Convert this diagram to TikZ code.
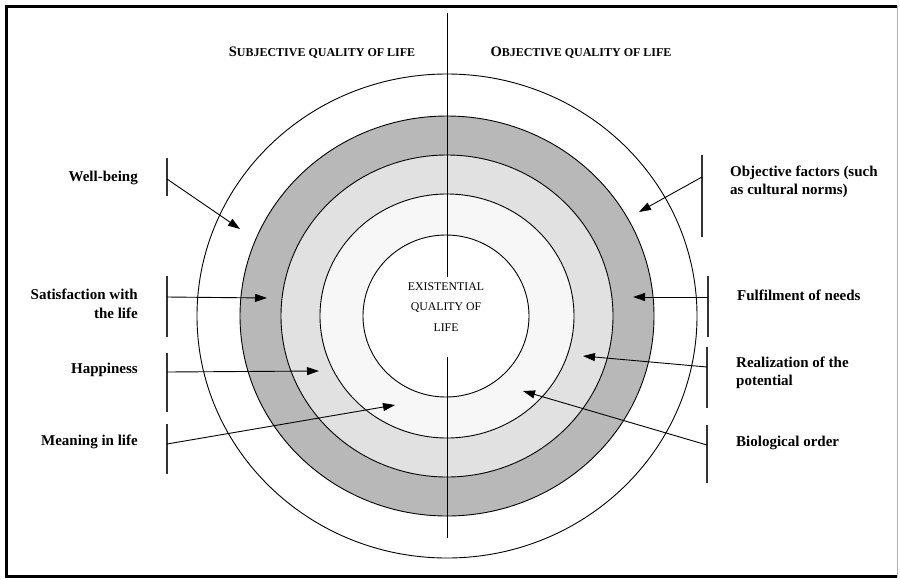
\documentclass[tikz,border=0pt]{standalone}
\usepackage{fontspec}
\setmainfont{Liberation Serif}
\usetikzlibrary{arrows.meta,positioning,calc}
\definecolor{ringdark}{HTML}{B8B8B8}
\definecolor{ringmid}{HTML}{E1E1E1}
\definecolor{ringlight}{HTML}{F7F7F7}
\tikzstyle{lbl} = [font=\fontsize{15}{18.5}\selectfont\bfseries, inner sep=0pt]
\tikzstyle{lbll} = [lbl, align=right, anchor=east]
\tikzstyle{lblr} = [lbl, align=left, anchor=west]
\tikzstyle{head} = [font=\bfseries, inner sep=0pt]
\tikzstyle{bar} = [line width=1.1pt, black!80]
\tikzstyle{pointer} = [-{Triangle[length=12pt,width=8pt]}, line width=0.9pt]
\tikzstyle{ring} = [draw, line width=0.9pt]
\newcommand{\hsc}[2]{{\fontsize{14.5}{16}\selectfont #1}{\fontsize{12}{16}\selectfont #2}}

\begin{document}
\begin{tikzpicture}[x=1pt,y=-1pt]
\useasboundingbox (0,0) rectangle (900,579);
% frame
\draw[line width=3pt] (897,6.5) -- (6.5,6.5) -- (6.5,576.5) -- (897,576.5);
\draw[gray!60, line width=0.8pt] (897,6) -- (897,577);

% rings
\draw[ring] (447,316) ellipse [x radius=250pt, y radius=242pt];
\draw[ring, fill=ringdark] (447,316) ellipse [x radius=207pt, y radius=200pt];
\draw[ring, fill=ringmid] (447,316) ellipse [x radius=166pt, y radius=161pt];
\draw[ring, fill=ringlight] (447,316) ellipse [x radius=127pt, y radius=122pt];
\draw[ring, fill=white] (446,316) ellipse [x radius=83pt, y radius=81pt];

% split line
\coordinate (axtop) at (447,13);
\coordinate (axin1) at (447,277);
\coordinate (axin2) at (447,357);
\coordinate (axbot) at (447,538);
\draw[line width=1pt] (axtop) -- (axin1);
\draw[line width=1pt] (axin2) -- (axbot);

\node[font=\fontsize{11.8}{20.5}\selectfont, align=center, inner sep=0pt] (core) at (446,307) {EXISTENTIAL\\QUALITY OF\\LIFE};

% headings
\node[head] (subj) at (322,53) {\hsc{S}{UBJECTIVE QUALITY OF LIFE}};
\node[head] (obj) at (581,53) {\hsc{O}{BJECTIVE QUALITY OF LIFE}};

% left labels
\node[lbll] (wb) at (138,178) {Well-being};
\node[lbll] (sat) at (138,304) {Satisfaction with\\the life};
\node[lbll] (hap) at (138,370) {Happiness};
\node[lbll] (mean) at (138,442) {Meaning in life};

% right labels
\node[lblr] (objf) at (730,182) {Objective factors (such\\as cultural norms)};
\node[lblr] (need) at (737,295) {Fulfilment of needs};
\node[lblr] (pot) at (736,373) {Realization of the\\potential};
\node[lblr] (bio) at (736,443) {Biological order};

% bars
\draw[bar] (167,158) -- (167,196);
\draw[bar] (167,276) -- (167,337);
\draw[bar] (167,353) -- (167,412);
\draw[bar] (167,424) -- (167,474);
\draw[bar] (702,155) -- (702,237);
\draw[bar] (708,276) -- (708,337);
\draw[bar] (707,347) -- (707,408);
\draw[bar] (707,425) -- (707,483);

\coordinate (wbs) at (167,179);
\coordinate (sats) at (167,297);
\coordinate (haps) at (167,372);
\coordinate (means) at (167,444);
\coordinate (objfs) at (702,177);
\coordinate (needs) at (708,297);
\coordinate (pots) at (707,367);
\coordinate (bios) at (707,445);

\coordinate (wbt) at (240,229);
\coordinate (satt) at (267,298);
\coordinate (hapt) at (319,371);
\coordinate (meant) at (395,405);
\coordinate (objft) at (639,212);
\coordinate (needt) at (633,297);
\coordinate (pott) at (583,356);
\coordinate (biot) at (523,391);

\draw[pointer] (wbs) -- (wbt);
\draw[pointer] (sats) -- (satt);
\draw[pointer] (haps) -- (hapt);
\draw[pointer] (means) -- (meant);
\draw[pointer] (objfs) -- (objft);
\draw[pointer] (needs) -- (needt);
\draw[pointer] (pots) -- (pott);
\draw[pointer] (bios) -- (biot);
\end{tikzpicture}
\end{document}
